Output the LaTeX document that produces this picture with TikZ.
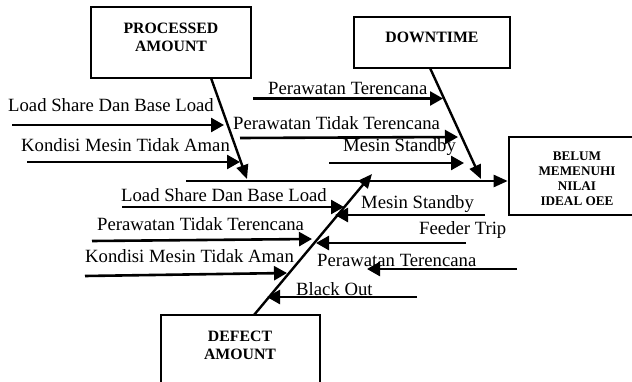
\documentclass[tikz,border=0pt]{standalone}
\usepackage{fontspec}
\setmainfont{Liberation Serif}
\usetikzlibrary{arrows.meta}

\tikzset{
	causebox/.style={draw, line width=2.6pt, inner sep=0pt},
	boxtext/.style={font=\fontsize{15.8}{18.5}\selectfont\bfseries, align=center, inner sep=0pt},
	effecttext/.style={font=\fontsize{13.2}{15}\selectfont\bfseries, align=center, inner sep=0pt},
	cause/.style={font=\fontsize{18.7}{22}\selectfont, anchor=base west, inner sep=0pt},
	branch/.style={line width=2.6pt, -{Triangle[length=13pt,width=14pt]}},
	spine/.style={line width=2.4pt, -{Triangle[length=14pt,width=12pt]}},
}

\begin{document}
\begin{tikzpicture}[x=1pt, y=-1pt]
	\useasboundingbox (0,0) rectangle (632,382);

	\node[causebox, minimum width=160pt, minimum height=71pt] (Processed) at (171,42.5) {};
	\node[boxtext] (ProcessedText) at (171,37.5) {PROCESSED\\AMOUNT};
	\node[causebox, minimum width=156pt, minimum height=51pt] (Downtime) at (432,42.5) {};
	\node[boxtext] (DowntimeText) at (432,37.5) {DOWNTIME};
	\node[causebox, minimum width=159pt, minimum height=85pt] (Defect) at (240.5,357.5) {};
	\node[boxtext] (DefectText) at (240,345.5) {DEFECT\\AMOUNT};
	\node[causebox, minimum width=136pt, minimum height=78pt] (Effect) at (577,176) {};
	\node[effecttext] (EffectText) at (577,178.5) {BELUM\\MEMENUHI\\NILAI\\IDEAL OEE};

	% spines
	\coordinate (spinetail) at (186,181);
	\coordinate (procroot) at (211,78);
	\coordinate (procend) at (247,179);
	\coordinate (downroot) at (430,68);
	\coordinate (downend) at (481,179);
	\coordinate (defroot) at (254,315);
	\coordinate (defend) at (372,174);
	\draw[spine] (spinetail) -- (spinetail -| Effect.west);
	\draw[spine] (procroot) -- (procend);
	\draw[spine] (downroot) -- (downend);
	\draw[spine] (defroot) -- (defend);

	% processed amount
	\coordinate (p1a) at (12,125);   \coordinate (p1b) at (224,125);
	\coordinate (p2a) at (27,162);   \coordinate (p2b) at (240,162);
	\draw[branch] (p1a) -- (p1b);
	\draw[branch] (p2a) -- (p2b);
	\node[cause] (pLoad) at (8,112) {Load Share Dan Base Load};
	\node[cause] (pKondisi) at (21,152) {Kondisi Mesin Tidak Aman};

	% downtime
	\coordinate (d1a) at (253,98.5); \coordinate (d1b) at (443,98.5);
	\coordinate (d2a) at (240,138);  \coordinate (d2b) at (458,137);
	\coordinate (d3a) at (329,163);  \coordinate (d3b) at (464,163);
	\draw[branch] (d1a) -- (d1b);
	\draw[branch] (d2a) -- (d2b);
	\draw[branch] (d3a) -- (d3b);
	\node[cause] (dRencana) at (268,95) {Perawatan Terencana};
	\node[cause] (dTidak) at (233,130) {Perawatan Tidak Terencana};
	\node[cause] (dStandby) at (343,152) {Mesin Standby};

	% defect amount
	\coordinate (f1a) at (122,207);  \coordinate (f1b) at (344,207);
	\coordinate (f2a) at (92,241);   \coordinate (f2b) at (312,239);
	\coordinate (f3a) at (85,276);   \coordinate (f3b) at (287,273);
	\coordinate (f4a) at (485,215);  \coordinate (f4b) at (335,215);
	\coordinate (f5a) at (466,243);  \coordinate (f5b) at (316,243);
	\coordinate (f6a) at (517,269);  \coordinate (f6b) at (367,269);
	\coordinate (f7a) at (417,297);  \coordinate (f7b) at (267,297);
	\foreach \i in {1,...,7}
		\draw[branch] (f\i a) -- (f\i b);
	\node[cause] (fLoad) at (121,202) {Load Share Dan Base Load};
	\node[cause] (fTidak) at (97,231) {Perawatan Tidak Terencana};
	\node[cause] (fKondisi) at (85,262) {Kondisi Mesin Tidak Aman};
	\node[cause] (fStandby) at (361,209) {Mesin Standby};
	\node[cause] (fFeeder) at (419,235) {Feeder Trip};
	\node[cause] (fRencana) at (317,266) {Perawatan Terencana};
	\node[cause] (fBlack) at (296,295) {Black Out};
\end{tikzpicture}
\end{document}
